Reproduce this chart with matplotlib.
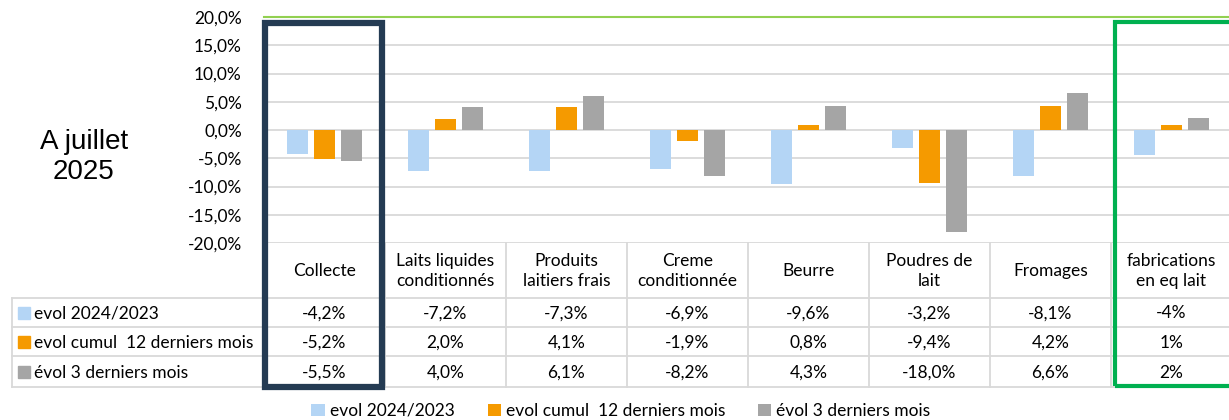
import numpy as np
import matplotlib
matplotlib.use("Agg")
import matplotlib.pyplot as plt
from matplotlib.patches import Patch, Rectangle

# ---- data ----
categories = ["Collecte", "Laits liquides\nconditionnés", "Produits\nlaitiers frais",
              "Creme\nconditionnée", "Beurre", "Poudres de\nlait", "Fromages",
              "fabrications\nen eq lait"]
series_names = ["evol 2024/2023", "evol cumul  12 derniers mois", "évol 3 derniers mois"]
evol_annee = [-4.2, -7.2, -7.3, -6.9, -9.6, -3.2, -8.1, -4.5]
evol_cumul12 = [-5.2, 2.0, 4.1, -1.9, 0.8, -9.4, 4.2, 0.8]
evol_3mois = [-5.5, 4.0, 6.1, -8.2, 4.3, -18.0, 6.6, 2.2]
table_decimals = [1, 1, 1, 1, 1, 1, 1, 0]
yticks = [20, 15, 10, 5, 0, -5, -10, -15, -20]
side_title = "A juillet\n2025"

colors = ["#B4D5F5", "#F59A00", "#A5A5A5"]
series = [evol_annee, evol_cumul12, evol_3mois]

FONT = "Lato"
FS = 12.5
plt.rcParams["font.family"] = [FONT, "DejaVu Sans"]

W, H = 1229, 420
fig = plt.figure(figsize=(W / 100, H / 100), dpi=100)
fx = lambda px: px / W
fy = lambda py: 1 - py / H

n = len(categories)
x = np.arange(n)
COLW = 121.0
def px2d(px):
    return (px - 264) / COLW - 0.5

# ---- chart ----
ax = fig.add_axes([fx(264), fy(243), n * COLW / W, (243 - 17) / H])
bw = 0.176
offs = [-0.223, 0.0, 0.223]
for vals, c, o in zip(series, colors, offs):
    ax.bar(x + o, vals, bw, color=c, zorder=3)
ax.set_xlim(-0.5, n - 0.5)
ax.set_ylim(-20, 20)
ax.set_yticks(yticks)
ax.set_yticklabels([f"{v:.1f}%".replace(".", ",") for v in yticks], fontsize=FS)
ax.tick_params(axis="y", length=0, pad=16)
ax.set_xticks([])
for s in ax.spines.values():
    s.set_visible(False)
for v in yticks:
    if v == 20:
        ax.axhline(v, color="#92D050", lw=1.5, zorder=2, clip_on=False)
    else:
        ax.axhline(v, color="#D9D9D9", lw=1.3, zorder=1)

# ---- data table ----
tax = fig.add_axes([fx(264), fy(387), n * COLW / W, 144 / H])
tax.set_xlim(-0.5, n - 0.5)
tax.set_ylim(144, 0)
tax.axis("off")
gc = "#D9D9D9"
rows_y = [0, 55, 84, 113, 144]
left = px2d(12)
for k in range(n + 1):
    tax.plot([k - 0.5, k - 0.5], [0, 144], color=gc, lw=1.3, clip_on=False)
tax.plot([left, left], [55, 144], color=gc, lw=1.3, clip_on=False)
for yy in rows_y[1:]:
    tax.plot([left, n - 0.5], [yy, yy], color=gc, lw=1.3, clip_on=False)
for i, cat in enumerate(categories):
    tax.text(i, 28, cat, ha="center", va="center", fontsize=FS, linespacing=1.35)
for r, (vals, name, c) in enumerate(zip(series, series_names, colors)):
    yc = (rows_y[r + 1] + rows_y[r + 2]) / 2
    for i, v in enumerate(vals):
        d = table_decimals[i]
        tax.text(i, yc + 1, f"{v:.{d}f}%".replace(".", ","), ha="center", va="center", fontsize=FS)
    tax.add_patch(Rectangle((px2d(18), yc - 6), 12 / COLW, 12, color=c, clip_on=False))
    tax.text(px2d(34), yc + 1, name, ha="left", va="center", fontsize=FS, clip_on=False)

# ---- side title ----
fig.text(fx(84), fy(157), side_title, ha="center", va="center", fontsize=20,
         family=["Liberation Sans", "DejaVu Sans"], linespacing=1.2)

# ---- highlight boxes ----
fig.add_artist(Rectangle((fx(265), fy(387)), fx(382 - 265), (387 - 22.5) / H,
                         transform=fig.transFigure, fill=False, ec="#243B53", lw=4.5))
fig.add_artist(Rectangle((fx(1114.5), fy(386)), fx(130), (386 - 22) / H,
                         transform=fig.transFigure, fill=False, ec="#00B050", lw=3))

# ---- legend ----
handles = [Patch(facecolor=c, edgecolor="none") for c in colors]
fig.legend(handles, series_names, loc="center", bbox_to_anchor=(fx(621), fy(411)),
           ncol=3, frameon=False, fontsize=FS, handlelength=0.75, handleheight=0.75,
           handletextpad=0.3, columnspacing=1.9, borderpad=0)

fig.savefig("out.png", dpi=100)
